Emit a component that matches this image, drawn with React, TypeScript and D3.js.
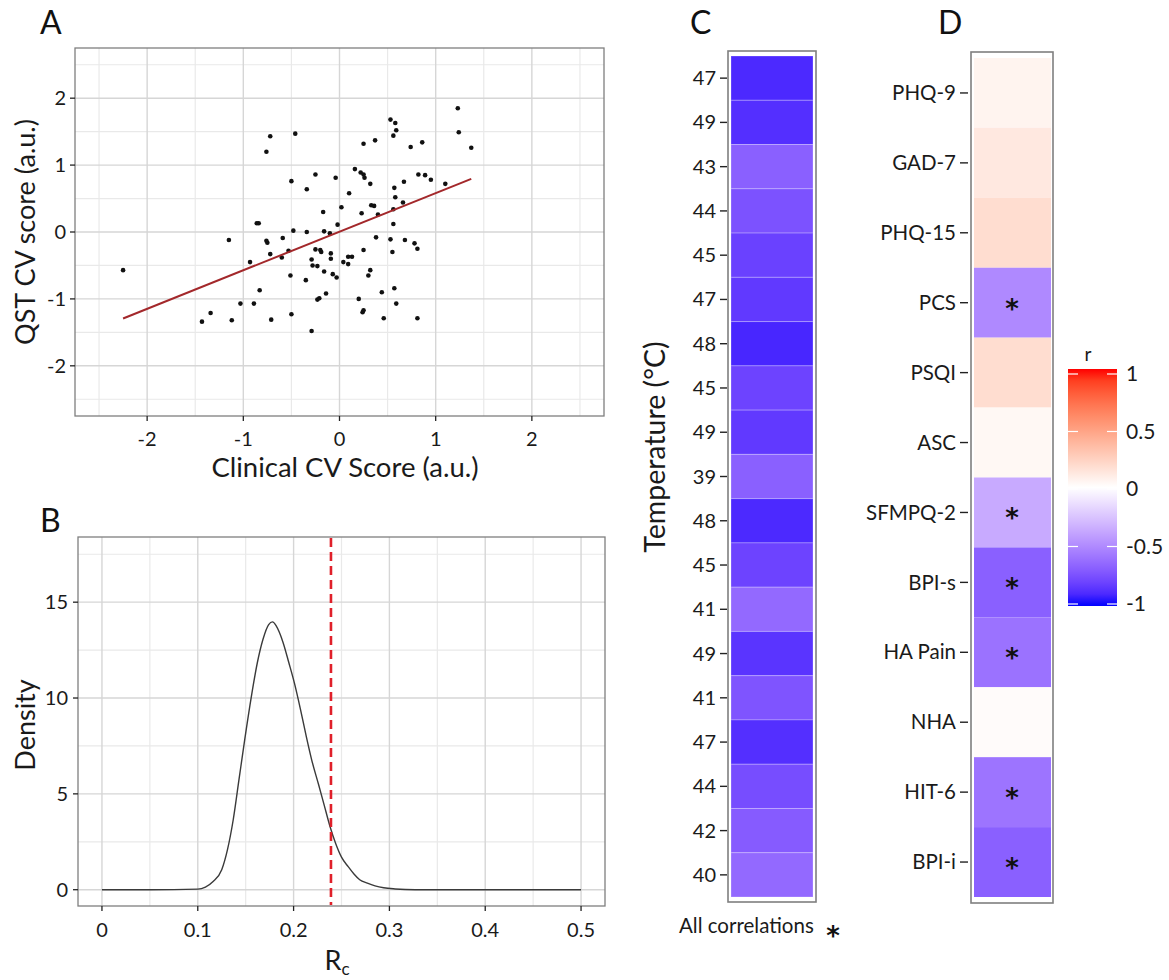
import React from "react";
import * as d3 from "d3";

// ---------- DATA ----------
// Panel A: scatter of clinical vs QST CV scores
const clinicalCV = [
  -2.25, -1.43, -1.34, -1.15, -1.12, -1.03, -0.93, -0.89, -0.86, -0.84,
  -0.83, -0.76, -0.76, -0.75, -0.72, -0.72, -0.71, -0.59, -0.6, -0.53,
  -0.51, -0.5, -0.5, -0.48, -0.46, -0.35, -0.34, -0.34, -0.29, -0.29,
  -0.28, -0.25, -0.25, -0.23, -0.21, -0.23, -0.2, -0.19, -0.17, -0.16,
  -0.16, -0.14, -0.1, -0.09, -0.09, -0.07, -0.04, -0.02, -0.03, 0.02,
  0.04, 0.09, 0.09, 0.1, 0.13, 0.16, 0.2, 0.22, 0.23, 0.24,
  0.25, 0.25, 0.25, 0.25, 0.26, 0.3, 0.32, 0.32, 0.33, 0.36,
  0.37, 0.38, 0.4, 0.44, 0.46, 0.53, 0.53, 0.55, 0.56, 0.56,
  0.56, 0.57, 0.57, 0.58, 0.58, 0.59, 0.59, 0.66, 0.67, 0.68,
  0.74, 0.78, 0.81, 0.81, 0.82, 0.86, 0.89, 0.95, 1.1, 1.23,
  1.24, 1.37,
];
const qstCV = [
  -0.57, -1.34, -1.21, -0.12, -1.32, -1.07, -0.45, -1.07, 0.13, 0.13,
  -0.87, 1.2, -0.13, -0.16, 1.43, -0.33, -1.31, -0.09, -0.38, -0.28,
  -0.65, -1.23, 0.76, 0.02, 1.47, -0.72, 0.64, 0.0, -1.48, -0.41,
  -0.5, 0.86, -0.26, -1.01, -0.99, -0.51, -0.27, -0.3, 0.3, 0.01,
  -0.59, -0.92, -0.02, -0.32, -0.4, -0.63, 0.81, 0.11, -0.68, 0.37,
  -0.45, -0.37, -0.48, 0.58, -0.37, 0.94, -1.0, 0.89, 0.28, -1.2,
  -1.17, 0.86, 1.32, -0.27, 0.81, -0.65, -0.57, 0.72, 0.4, 0.39,
  1.37, -0.08, 0.26, -0.9, -1.29, -0.11, 1.68, -0.3, 1.44, 0.12,
  0.34, 0.66, -0.84, 0.52, 1.63, 1.52, -1.07, 0.44, 0.75, -0.12,
  1.27, -0.17, -0.25, -1.29, 0.86, 1.34, 0.85, 0.78, 0.72, 1.85,
  1.49, 1.26,
];
const ticksA = [-2, -1, 0, 1, 2];
const minorA = [-2.5, -1.5, -0.5, 0.5, 1.5, 2.5];

// Panel B: density of Rc
const rcGrid = [
  0, 0.05, 0.1, 0.108, 0.116, 0.125, 0.131, 0.137, 0.143, 0.149, 0.156, 0.162,
  0.168, 0.174, 0.178, 0.182, 0.189, 0.195, 0.201, 0.207, 0.213, 0.219, 0.226,
  0.232, 0.238, 0.244, 0.25, 0.257, 0.263, 0.269, 0.277, 0.285, 0.294, 0.306,
  0.327, 0.4, 0.5,
];
const rcDensity = [
  0, 0, 0.03, 0.14, 0.43, 1.04, 2.09, 3.65, 5.74, 7.83, 10.1, 11.8,
  13.05, 13.83, 13.97, 13.75, 12.9, 11.85, 10.75, 9.45, 8.05, 6.75, 5.5,
  4.4, 3.3, 2.4, 1.7, 1.2, 0.82, 0.52, 0.34, 0.2, 0.1, 0.04,
  0, 0, 0,
];
const rcObserved = 0.239;
const ticksBx = [0, 0.1, 0.2, 0.3, 0.4, 0.5];
const minorBx = [0.05, 0.15, 0.25, 0.35, 0.45];
const ticksBy = [0, 5, 10, 15];
const minorBy = [2.5, 7.5, 12.5, 17.5];

// Panel C: correlations per temperature
const temperatures = [
  "47", "49", "43", "44", "45", "47", "48", "45", "49", "39",
  "48", "45", "41", "49", "41", "47", "44", "42", "40",
];
const temperatureR = [
  -0.9, -0.88, -0.68, -0.74, -0.81, -0.84, -0.91, -0.8, -0.84, -0.68,
  -0.9, -0.8, -0.64, -0.86, -0.73, -0.88, -0.76, -0.7, -0.64,
];

// Panel D: correlations per clinical scale
const scales = [
  "PHQ-9", "GAD-7", "PHQ-15", "PCS", "PSQI", "ASC",
  "SFMPQ-2", "BPI-s", "HA Pain", "NHA", "HIT-6", "BPI-i",
];
const scaleR = [0.06, 0.12, 0.18, -0.5, 0.18, 0.04, -0.36, -0.68, -0.6, 0.02, -0.59, -0.68];
const scaleSig = [false, false, false, true, false, false, true, true, true, false, true, true];

const legendBreaks = [1, 0.5, 0, -0.5, -1];

// ---------- STYLE ----------
const FONT = "Lato, 'Open Sans', sans-serif";
const TXT = "#1a1a1a";
const GRID_MAJ = "#d6d6d6";
const GRID_MIN = "#e9e9e9";
const BORDER = "#7f7f7f";

const color = d3
  .scaleLinear<string>()
  .domain([-1, 0, 1])
  .range(["blue", "white", "red"])
  .interpolate(d3.interpolateLab);

function PanelA() {
  const x = d3.scaleLinear().domain([-2.75, 2.75]).range([75, 604]);
  const y = d3.scaleLinear().domain([-2.75, 2.75]).range([416, 48]);
  const mx = d3.mean(clinicalCV)!;
  const my = d3.mean(qstCV)!;
  let sxy = 0,
    sxx = 0;
  clinicalCV.forEach((v, i) => {
    sxy += (v - mx) * (qstCV[i] - my);
    sxx += (v - mx) * (v - mx);
  });
  const slope = sxy / sxx;
  const icpt = my - slope * mx;
  const [x0, x1] = d3.extent(clinicalCV) as [number, number];
  return (
    <g>
      <text x={40} y={34} fontSize={32} fontFamily={FONT} fill="#111">A</text>
      <rect x={75} y={48} width={529} height={368} fill="white" />
      {minorA.map((v) => (
        <g key={"m" + v}>
          <line x1={x(v)} x2={x(v)} y1={48} y2={416} stroke={GRID_MIN} strokeWidth={1.2} />
          <line x1={75} x2={604} y1={y(v)} y2={y(v)} stroke={GRID_MIN} strokeWidth={1.2} />
        </g>
      ))}
      {ticksA.map((v) => (
        <g key={"M" + v}>
          <line x1={x(v)} x2={x(v)} y1={48} y2={416} stroke={GRID_MAJ} strokeWidth={1.4} />
          <line x1={75} x2={604} y1={y(v)} y2={y(v)} stroke={GRID_MAJ} strokeWidth={1.4} />
        </g>
      ))}
      {clinicalCV.map((v, i) => (
        <circle key={i} cx={x(v)} cy={y(qstCV[i])} r={2.3} fill="#111" />
      ))}
      <line
        x1={x(x0)}
        y1={y(icpt + slope * x0)}
        x2={x(x1)}
        y2={y(icpt + slope * x1)}
        stroke="#a3282b"
        strokeWidth={2}
      />
      <rect x={75} y={48} width={529} height={368} fill="none" stroke={BORDER} strokeWidth={1.3} />
      {ticksA.map((v) => (
        <g key={"t" + v}>
          <line x1={70} x2={75} y1={y(v)} y2={y(v)} stroke="#222" strokeWidth={1.3} />
          <text x={66} y={y(v)} dy="0.35em" textAnchor="end" fontSize={20} fontFamily={FONT} fill={TXT}>
            {v}
          </text>
          <line x1={x(v)} x2={x(v)} y1={416} y2={421} stroke="#222" strokeWidth={1.3} />
          <text x={x(v)} y={446} textAnchor="middle" fontSize={20} fontFamily={FONT} fill={TXT}>
            {v}
          </text>
        </g>
      ))}
      <text x={345} y={477} textAnchor="middle" fontSize={27.5} fontFamily={FONT} fill={TXT}>
        Clinical CV Score (a.u.)
      </text>
      <text
        transform="translate(35,232) rotate(-90)"
        textAnchor="middle"
        fontSize={27}
        fontFamily={FONT}
        fill={TXT}
      >
        QST CV score (a.u.)
      </text>
    </g>
  );
}

function PanelB() {
  const x = d3.scaleLinear().domain([-0.025, 0.525]).range([78, 605]);
  const y = d3.scaleLinear().domain([-0.85, 18.4]).range([906, 537]);
  const line = d3
    .line<number>()
    .x((d, i) => x(rcGrid[i]))
    .y((d) => y(d))
    .curve(d3.curveMonotoneX);
  return (
    <g>
      <text x={40} y={532} fontSize={32} fontFamily={FONT} fill="#111">B</text>
      <rect x={78} y={537} width={527} height={369} fill="white" />
      {minorBx.map((v) => (
        <line key={"mx" + v} x1={x(v)} x2={x(v)} y1={537} y2={906} stroke={GRID_MIN} strokeWidth={1.2} />
      ))}
      {minorBy.map((v) => (
        <line key={"my" + v} x1={78} x2={605} y1={y(v)} y2={y(v)} stroke={GRID_MIN} strokeWidth={1.2} />
      ))}
      {ticksBx.map((v) => (
        <line key={"Mx" + v} x1={x(v)} x2={x(v)} y1={537} y2={906} stroke={GRID_MAJ} strokeWidth={1.4} />
      ))}
      {ticksBy.map((v) => (
        <line key={"My" + v} x1={78} x2={605} y1={y(v)} y2={y(v)} stroke={GRID_MAJ} strokeWidth={1.4} />
      ))}
      <path d={line(rcDensity) || ""} fill="none" stroke="#3a3a3a" strokeWidth={1.4} />
      <line
        x1={x(rcObserved)}
        x2={x(rcObserved)}
        y1={538}
        y2={905}
        stroke="#e0202a"
        strokeWidth={2.6}
        strokeDasharray="9,5"
      />
      <rect x={78} y={537} width={527} height={369} fill="none" stroke={BORDER} strokeWidth={1.3} />
      {ticksBy.map((v) => (
        <g key={"ty" + v}>
          <line x1={73} x2={78} y1={y(v)} y2={y(v)} stroke="#222" strokeWidth={1.3} />
          <text x={68} y={y(v)} dy="0.35em" textAnchor="end" fontSize={20} fontFamily={FONT} fill={TXT}>
            {v}
          </text>
        </g>
      ))}
      {ticksBx.map((v) => (
        <g key={"tx" + v}>
          <line x1={x(v)} x2={x(v)} y1={906} y2={911} stroke="#222" strokeWidth={1.3} />
          <text x={x(v)} y={937} textAnchor="middle" fontSize={20} fontFamily={FONT} fill={TXT}>
            {v}
          </text>
        </g>
      ))}
      <text x={337} y={970} textAnchor="middle" fontSize={27} fontFamily={FONT} fill={TXT}>
        R
        <tspan fontSize={17} dy={5}>c</tspan>
      </text>
      <text
        transform="translate(35,725) rotate(-90)"
        textAnchor="middle"
        fontSize={27}
        fontFamily={FONT}
        fill={TXT}
      >
        Density
      </text>
    </g>
  );
}

function PanelC() {
  const y = d3
    .scaleBand<number>()
    .domain(d3.range(temperatures.length))
    .range([56, 897]);
  return (
    <g>
      <text x={690} y={34} fontSize={32} fontFamily={FONT} fill="#111">C</text>
      {temperatureR.map((r, i) => (
        <rect
          key={i}
          x={731}
          y={y(i)!}
          width={82}
          height={y.bandwidth()}
          fill={color(r)}
          stroke="rgba(255,255,255,0.25)"
          strokeWidth={1}
        />
      ))}
      <rect x={728} y={51} width={88} height={851} fill="none" stroke={BORDER} strokeWidth={1.6} />
      {temperatures.map((t, i) => (
        <g key={"l" + i}>
          <line
            x1={720}
            x2={727}
            y1={y(i)! + y.bandwidth() / 2}
            y2={y(i)! + y.bandwidth() / 2}
            stroke="#222"
            strokeWidth={1.4}
          />
          <text
            x={716}
            y={y(i)! + y.bandwidth() / 2}
            dy="0.35em"
            textAnchor="end"
            fontSize={20}
            fontFamily={FONT}
            fill={TXT}
          >
            {t}
          </text>
        </g>
      ))}
      <text
        transform="translate(665,447) rotate(-90)"
        textAnchor="middle"
        fontSize={28.5}
        fontFamily={FONT}
        fill={TXT}
      >
        Temperature (°C)
      </text>
      <text x={679} y={933} fontSize={20.5} fontFamily={FONT} fill={TXT}>
        All correlations
      </text>
      <text x={833} y={945} textAnchor="middle" fontSize={26} fontWeight="bold" fontFamily="'DejaVu Sans', sans-serif" fill="#111">
        *
      </text>
    </g>
  );
}

function PanelD() {
  const y = d3.scaleBand<number>().domain(d3.range(scales.length)).range([58, 897]);
  return (
    <g>
      <text x={938} y={34} fontSize={32} fontFamily={FONT} fill="#111">D</text>
      {scaleR.map((r, i) => (
        <rect key={i} x={974} y={y(i)!} width={77} height={y.bandwidth()} fill={color(r)} />
      ))}
      {scaleSig.map((s, i) =>
        s ? (
          <text
            key={"s" + i}
            x={1012}
            y={y(i)! + y.bandwidth() / 2 + 15}
            textAnchor="middle"
            fontSize={26}
            fontWeight="bold"
            fontFamily="'DejaVu Sans', sans-serif"
            fill="#111"
          >
            *
          </text>
        ) : null
      )}
      <rect x={971} y={52} width={82} height={851} fill="none" stroke={BORDER} strokeWidth={1.6} />
      {scales.map((t, i) => (
        <g key={"l" + i}>
          <line
            x1={960}
            x2={968}
            y1={y(i)! + y.bandwidth() / 2}
            y2={y(i)! + y.bandwidth() / 2}
            stroke="#222"
            strokeWidth={1.4}
          />
          <text
            x={956}
            y={y(i)! + y.bandwidth() / 2}
            dy="0.35em"
            textAnchor="end"
            fontSize={20.5}
            fontFamily={FONT}
            fill={TXT}
          >
            {t}
          </text>
        </g>
      ))}
    </g>
  );
}

function Legend() {
  const y = d3.scaleLinear().domain([-1, 1]).range([604, 374]);
  const stops = d3.range(0, 1.0001, 0.05);
  return (
    <g>
      <defs>
        <linearGradient id="rgrad" x1="0" y1="1" x2="0" y2="0">
          {stops.map((s) => (
            <stop key={s} offset={s} stopColor={color(-1 + 2 * s)} />
          ))}
        </linearGradient>
      </defs>
      <text x={1088} y={361} textAnchor="middle" fontSize={19} fontFamily={FONT} fill={TXT}>
        r
      </text>
      <rect x={1068} y={369} width={49} height={237} fill="url(#rgrad)" />
      {legendBreaks.map((v) => (
        <g key={v}>
          <line x1={1068} x2={1078} y1={y(v)} y2={y(v)} stroke="white" strokeWidth={1.2} />
          <line x1={1107} x2={1117} y1={y(v)} y2={y(v)} stroke="white" strokeWidth={1.2} />
          <text x={1126} y={y(v)} dy="0.35em" fontSize={21} fontFamily={FONT} fill={TXT}>
            {v}
          </text>
        </g>
      ))}
    </g>
  );
}

export default function App() {
  return (
    <svg
      width={1169}
      height={980}
      viewBox="0 0 1169 980"
      style={{ position: "absolute", left: 0, top: 0, background: "white" }}
    >
      <rect width={1169} height={980} fill="white" />
      <PanelA />
      <PanelB />
      <PanelC />
      <PanelD />
      <Legend />
    </svg>
  );
}
